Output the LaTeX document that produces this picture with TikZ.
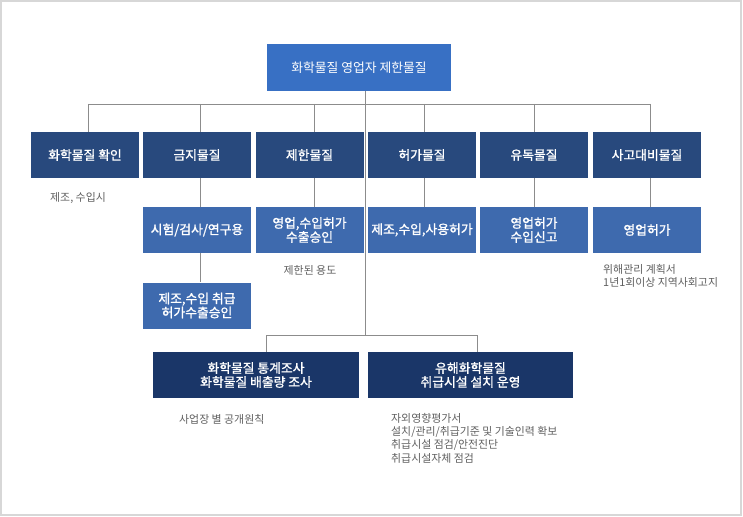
\documentclass[tikz,border=0pt]{standalone}
\usepackage{fontspec}
\setmainfont{Noto Sans CJK KR}
\newfontfamily\bx{Noto Sans CJK KR}[FakeBold=1.2]
\definecolor{topblue}{RGB}{56,112,196}
\definecolor{navy}{RGB}{40,73,125}
\definecolor{midblue}{RGB}{62,106,174}
\definecolor{deepnavy}{RGB}{26,54,104}
\definecolor{labelgrey}{RGB}{95,95,95}
\definecolor{linegrey}{RGB}{140,140,140}
\definecolor{framegrey}{RGB}{215,215,215}
\tikzset{
  box/.style={fill=#1, text=white, inner sep=0pt, align=center, font=\bx\fontsize{12.8}{14}\selectfont, minimum height=46pt},
  lab/.style={text=labelgrey, inner sep=0pt, align=left, font=\fontsize{10.9}{13.3}\selectfont},
  conn/.style={draw=linegrey, line width=0.9pt}
}
\begin{document}
\begin{tikzpicture}[x=1pt,y=-1pt]
\useasboundingbox (0,0) rectangle (743,516);
\draw[framegrey, line width=1.2pt] (1,1) rectangle (741,515);
% connector points
\coordinate (hl) at (88,104);
\coordinate (hr) at (650,104);
\coordinate (trunk) at (365,104);
\coordinate (lowj) at (365,335);
\coordinate (lowl) at (266,335);
\coordinate (lowr) at (477,335);
\node[box=topblue, minimum width=184pt, minimum height=47pt, font=\fontsize{12.8}{14}\selectfont] (top) at (359,67.5) {화학물질 영업자 제한물질};
\node[box=navy, minimum width=108pt] (a1) at (85,155) {화학물질 확인};
\node[box=navy, minimum width=108pt] (a2) at (197,155) {금지물질};
\node[box=navy, minimum width=108pt] (a3) at (309.5,155) {제한물질};
\node[box=navy, minimum width=108pt] (a4) at (422,155) {허가물질};
\node[box=navy, minimum width=108pt] (a5) at (534,155) {유독물질};
\node[box=navy, minimum width=108pt] (a6) at (647,155) {사고대비물질};
\node[box=midblue, minimum width=108pt] (b2) at (197,230) {시험/검사/연구용};
\node[box=midblue, minimum width=108pt] (b3) at (309.5,230) {영업,수입허가\\수출승인};
\node[box=midblue, minimum width=108pt] (b4) at (422,230) {제조,수입,사용허가};
\node[box=midblue, minimum width=108pt] (b5) at (534,230) {영업허가\\수입신고};
\node[box=midblue, minimum width=108pt] (b6) at (647,230) {영업허가};
\node[box=midblue, minimum width=108pt] (c2) at (197,305.5) {제조,수입 취급\\허가수출승인};
\node[box=deepnavy, minimum width=206pt] (d1) at (256,375) {화학물질 통계조사\\화학물질 배출량 조사};
\node[box=deepnavy, minimum width=205pt] (d2) at (470.5,375) {유해화학물질\\취급시설 설치 운영};
\draw[conn] (top.south -| trunk) -- (lowj);
\draw[conn] (hl) -- (hr);
\draw[conn] (hl) -- (hl |- a1.north);
\draw[conn] (200,104) -- (200,132);
\draw[conn] (314,104) -- (314,132);
\draw[conn] (424,104) -- (424,132);
\draw[conn] (534,104) -- (534,132);
\draw[conn] (hr) -- (hr |- a6.north);
\draw[conn] (a2.south -| 200,0) -- (b2.north -| 200,0);
\draw[conn] (b2.south -| 200,0) -- (c2.north -| 200,0);
\draw[conn] (a3.south -| 314,0) -- (b3.north -| 314,0);
\draw[conn] (a4.south -| 424,0) -- (b4.north -| 424,0);
\draw[conn] (a5.south -| 534,0) -- (b5.north -| 534,0);
\draw[conn] (a6.south -| 650,0) -- (b6.north -| 650,0);
\draw[conn] (lowl) -- (lowr);
\draw[conn] (lowl) -- (lowl |- d1.north);
\draw[conn] (lowr) -- (lowr |- d2.north);
% labels
\node[lab, anchor=west] (l1) at (50,198) {제조, 수입시};
\node[lab] (l3) at (310,270) {제한된 용도};
\node[lab, anchor=north west] (l6) at (603,264) {위해관리 계획서\\1년1회이상 지역사회고지};
\node[lab, anchor=west] (l7) at (179,419) {사업장 별 공개원칙};
\node[lab, anchor=north west] (l8) at (391,413) {자외영향평가서\\설치/관리/취급기준 및 기술인력 확보\\취급시설 점검/안전진단\\취급시설자체 점검};
\end{tikzpicture}
\end{document}
